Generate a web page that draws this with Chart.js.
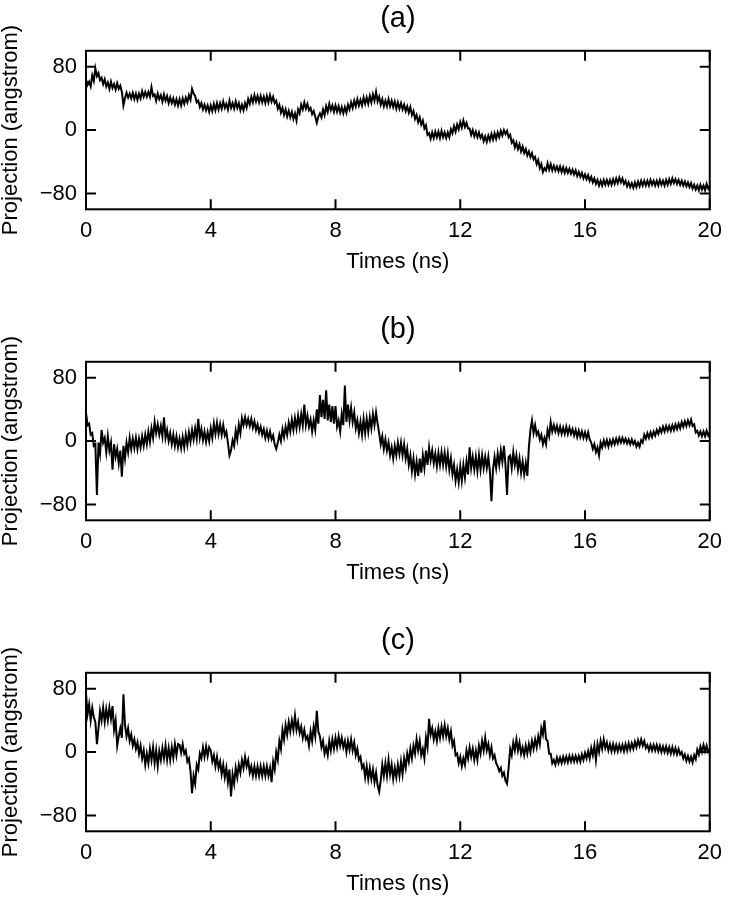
<!DOCTYPE html>
<html>
<head>
<meta charset="utf-8">
<script src="https://cdn.jsdelivr.net/npm/chart.js@4.4.1/dist/chart.umd.min.js"></script>
<style>
html,body{margin:0;padding:0;background:#fff;}
#wrap{position:relative;width:730px;height:899px;overflow:hidden;background:#fff;}
canvas{position:absolute;left:0;}
</style>
</head>
<body>
<div id="wrap">
<canvas id="ca" width="730" height="311" style="top:0px"></canvas>
<canvas id="cb" width="730" height="311" style="top:311px"></canvas>
<canvas id="cc" width="730" height="277" style="top:622px"></canvas>
</div>
<script>
// ---- data ----
const PANEL_TITLES = ['(a)', '(b)', '(c)'];
const X_TITLE = 'Times (ns)';
const Y_TITLE = 'Projection (angstrom)';
const X_TICKS = [0, 4, 8, 12, 16, 20];
const Y_TICKS = [-80, 0, 80];
const Y_TICK_LABELS = ['\u221280', '0', '80'];

// sampling times (ns)
const TIMES = [
  0,0.05,0.1,0.15,0.2,0.25,0.3,0.35,0.4,0.45,0.5,0.55,0.6,0.65,0.7,0.75,0.8,0.85,0.9,0.95,
  1,1.05,1.1,1.15,1.2,1.25,1.3,1.35,1.4,1.45,1.5,1.55,1.6,1.65,1.7,1.75,1.8,1.85,1.9,1.95,
  2,2.05,2.1,2.15,2.2,2.25,2.3,2.35,2.4,2.45,2.5,2.55,2.6,2.65,2.7,2.75,2.8,2.85,2.9,2.95,
  3,3.05,3.1,3.15,3.2,3.25,3.3,3.35,3.4,3.45,3.5,3.55,3.6,3.65,3.7,3.75,3.8,3.85,3.9,3.95,
  4,4.05,4.1,4.15,4.2,4.25,4.3,4.35,4.4,4.45,4.5,4.55,4.6,4.65,4.7,4.75,4.8,4.85,4.9,4.95,
  5,5.05,5.1,5.15,5.2,5.25,5.3,5.35,5.4,5.45,5.5,5.55,5.6,5.65,5.7,5.75,5.8,5.85,5.9,5.95,
  6,6.05,6.1,6.15,6.2,6.25,6.3,6.35,6.4,6.45,6.5,6.55,6.6,6.65,6.7,6.75,6.8,6.85,6.9,6.95,
  7,7.05,7.1,7.15,7.2,7.25,7.3,7.35,7.4,7.45,7.5,7.55,7.6,7.65,7.7,7.75,7.8,7.85,7.9,7.95,
  8,8.05,8.1,8.15,8.2,8.25,8.3,8.35,8.4,8.45,8.5,8.55,8.6,8.65,8.7,8.75,8.8,8.85,8.9,8.95,
  9,9.05,9.1,9.15,9.2,9.25,9.3,9.35,9.4,9.45,9.5,9.55,9.6,9.65,9.7,9.75,9.8,9.85,9.9,9.95,
  10,10.05,10.1,10.15,10.2,10.25,10.3,10.35,10.4,10.45,10.5,10.55,10.6,10.65,10.7,10.75,10.8,10.85,10.9,10.95,
  11,11.05,11.1,11.15,11.2,11.25,11.3,11.35,11.4,11.45,11.5,11.55,11.6,11.65,11.7,11.75,11.8,11.85,11.9,11.95,
  12,12.05,12.1,12.15,12.2,12.25,12.3,12.35,12.4,12.45,12.5,12.55,12.6,12.65,12.7,12.75,12.8,12.85,12.9,12.95,
  13,13.05,13.1,13.15,13.2,13.25,13.3,13.35,13.4,13.45,13.5,13.55,13.6,13.65,13.7,13.75,13.8,13.85,13.9,13.95,
  14,14.05,14.1,14.15,14.2,14.25,14.3,14.35,14.4,14.45,14.5,14.55,14.6,14.65,14.7,14.75,14.8,14.85,14.9,14.95,
  15,15.05,15.1,15.15,15.2,15.25,15.3,15.35,15.4,15.45,15.5,15.55,15.6,15.65,15.7,15.75,15.8,15.85,15.9,15.95,
  16,16.05,16.1,16.15,16.2,16.25,16.3,16.35,16.4,16.45,16.5,16.55,16.6,16.65,16.7,16.75,16.8,16.85,16.9,16.95,
  17,17.05,17.1,17.15,17.2,17.25,17.3,17.35,17.4,17.45,17.5,17.55,17.6,17.65,17.7,17.75,17.8,17.85,17.9,17.95,
  18,18.05,18.1,18.15,18.2,18.25,18.3,18.35,18.4,18.45,18.5,18.55,18.6,18.65,18.7,18.75,18.8,18.85,18.9,18.95,
  19,19.05,19.1,19.15,19.2,19.25,19.3,19.35,19.4,19.45,19.5,19.55,19.6,19.65,19.7,19.75,19.8,19.85,19.9,19.95,
  20
];

// panel (a) projection (angstrom)
const PROJ_A = [
  64,57,61,55,69,62,78,68,72,63,66,58,64,55,60,52,61,53,58,51,
  59,52,56,48,31,40,47,41,46,40,47,39,46,38,46,40,49,42,48,42,
  48,42,54,43,45,37,46,39,44,36,45,37,43,34,41,34,40,32,39,31,
  39,31,40,33,41,35,44,38,52,46,43,35,37,29,34,26,32,25,31,23,
  31,24,33,25,34,26,34,27,36,28,33,26,37,28,34,27,36,28,34,25,
  32,25,34,28,39,33,42,35,44,36,43,35,43,35,42,34,43,35,44,36,
  42,34,37,27,32,22,28,19,26,17,24,16,23,14,21,12,26,21,32,26,
  35,27,33,25,28,20,24,17,9,17,21,16,26,19,30,23,33,25,31,23,
  31,23,30,22,29,21,29,22,32,26,35,28,37,30,39,31,38,31,41,33,
  41,33,43,35,45,37,48,36,42,32,39,30,37,30,39,30,37,29,36,27,
  35,27,34,26,32,24,30,22,29,19,24,14,19,10,16,7,12,2,6,-6,
  -4,-11,-3,-10,-2,-9,-2,-10,-1,-9,-3,-10,-3,-9,1,-4,5,-2,7,1,
  10,3,12,4,9,2,2,-6,0,-8,-2,-9,-3,-10,-6,-14,-8,-15,-7,-13,
  -5,-12,-4,-11,-3,-9,-1,-7,0,-5,-1,-9,-6,-16,-13,-22,-16,-24,-18,-27,
  -21,-29,-24,-32,-27,-34,-29,-37,-34,-43,-38,-48,-43,-53,-48,-51,-42,-50,-43,-51,
  -45,-51,-46,-52,-46,-53,-47,-54,-48,-54,-49,-55,-50,-56,-51,-58,-53,-59,-54,-61,
  -56,-62,-57,-64,-59,-66,-61,-68,-63,-70,-64,-70,-63,-69,-63,-69,-63,-69,-62,-68,
  -61,-67,-60,-66,-61,-68,-64,-71,-66,-72,-67,-73,-66,-72,-65,-71,-64,-70,-64,-70,
  -64,-70,-63,-69,-64,-70,-64,-70,-63,-69,-64,-70,-63,-69,-62,-68,-61,-67,-62,-68,
  -63,-69,-64,-70,-65,-71,-66,-72,-67,-74,-69,-75,-70,-76,-69,-75,-70,-76,-68,-74,
  -70
];

// panel (b) projection (angstrom)
const PROJ_B = [
  36,20,22,8,10,-6,-4,-68,-2,-16,14,-2,4,-14,6,-12,-2,-36,-4,-20,
  -10,-28,-12,-45,-6,-22,-2,-14,4,-10,3,-9,4,-10,3,-8,6,-6,8,-4,
  12,-1,16,4,24,10,21,8,19,6,30,4,14,0,10,-4,8,-6,6,-8,
  3,-9,5,-8,8,-5,11,-1,14,2,16,3,28,4,15,1,12,-1,11,0,
  16,4,22,9,23,9,21,8,20,7,12,-2,-18,-12,1,-6,13,2,21,10,
  29,20,30,20,28,19,28,17,25,14,21,11,18,8,15,4,13,3,12,2,
  7,-4,-10,-2,8,0,15,5,18,8,23,12,27,14,29,16,32,18,34,20,
  46,20,32,18,27,12,26,14,40,22,58,30,52,28,64,26,46,24,44,22,
  44,18,26,12,34,20,70,24,46,26,42,24,36,16,26,10,24,8,28,10,
  28,12,30,16,34,20,36,22,10,-4,6,-10,2,-12,-2,-18,-8,-22,-6,-18,
  -2,-16,-2,-18,-4,-22,-10,-30,-18,-38,-22,-42,-26,-44,-22,-40,-18,-34,-12,-30,
  -8,-24,-12,-28,-16,-32,-15,-30,-14,-30,-15,-32,-16,-36,-22,-42,-30,-50,-36,-52,
  -32,-50,-30,-46,-26,-42,-8,-34,-20,-36,-20,-38,-18,-36,-18,-34,-20,-34,-20,-38,
  -76,-36,-20,-34,-16,-30,-12,-26,-6,-30,-68,-20,-18,-34,-14,-30,-18,-36,-22,-40,
  -26,-42,-28,-44,-8,14,26,10,20,8,12,2,8,-4,4,-4,14,6,24,12,
  20,12,19,10,18,9,17,9,18,9,17,9,15,7,14,5,13,5,12,4,
  11,3,11,2,-2,-10,-4,-14,-8,-18,-2,-8,1,-6,1,-7,1,-5,2,-4,
  3,-3,4,-2,4,-2,3,-3,2,-4,2,-4,0,-7,-2,-7,1,-2,8,3,
  10,4,11,5,12,7,14,9,16,11,18,12,19,13,19,13,20,14,21,15,
  22,16,24,18,25,19,26,20,27,19,21,11,13,7,12,6,12,6,13,7,
  11
];

// panel (c) projection (angstrom)
const PROJ_C = [
  74,48,60,40,56,44,38,10,30,52,40,56,38,54,40,56,42,58,28,40,
  8,20,30,18,73,34,20,30,14,22,8,16,4,12,-2,8,-8,2,-16,-2,
  -14,4,-10,6,-14,2,-18,1,-10,5,-8,8,-10,5,-10,6,-7,10,-4,10,
  9,-1,10,-2,2,-12,-8,-24,-52,-30,-40,-16,-22,-2,-8,6,-6,7,-5,6,
  2,-12,-4,-18,-6,-20,-12,-28,-16,-32,-20,-38,-22,-56,-28,-40,-20,-32,-16,-26,
  -10,-20,-6,-18,-10,-26,-18,-30,-18,-30,-18,-30,-18,-30,-18,-30,-18,-30,-20,-38,
  -12,-22,0,-10,14,4,28,16,34,22,38,26,40,28,46,28,38,24,32,18,
  28,16,20,8,26,14,32,20,52,26,20,6,14,-2,6,-4,14,2,16,4,
  18,6,20,8,18,6,14,0,14,3,16,2,12,-4,4,-10,-6,-20,-16,-32,
  -18,-34,-20,-34,-22,-38,-26,-42,-50,-36,-16,-30,-14,-30,-10,-28,-16,-34,-20,-32,
  -16,-30,-12,-28,-8,-20,-2,-12,4,-8,8,-2,16,2,14,-4,4,-8,18,6,
  42,22,30,16,26,14,30,18,32,20,34,20,30,16,26,8,14,-4,-2,-14,
  -6,-18,-8,-16,2,-8,6,-6,4,-10,2,-10,8,-2,14,2,18,2,10,-4,
  6,-8,-4,-14,-18,-24,-20,-30,-26,-36,-40,-20,4,-4,12,2,16,2,12,-2,
  6,-4,8,-2,10,0,14,4,16,6,20,10,30,22,40,16,14,-2,-2,-14,
  -10,-16,-7,-14,-7,-14,-6,-13,-6,-13,-5,-12,-5,-12,-5,-12,-5,-12,-3,-10,
  -1,-8,1,-8,5,-4,8,-10,10,0,14,4,16,5,12,2,10,1,10,1,
  9,1,9,2,9,1,10,2,11,3,11,4,13,6,15,8,16,8,14,5,
  9,2,9,2,9,2,9,1,8,0,7,0,7,-1,6,-2,6,-2,5,-3,
  4,-3,0,-8,-3,-11,-5,-12,-6,-13,-4,-9,3,-3,7,0,9,1,8,0,
  3
];

// ---- styling / layout ----
const FONT = '"Liberation Sans", Arial, Helvetica, sans-serif';
const PLOT_BOTTOM = 209.3;   // chart-area bottom inside each canvas
const TICK_LEN = 10;

const boxPlugin = {
  id: 'boxTicks',
  afterDatasetsDraw(chart) {
    const ctx = chart.ctx, a = chart.chartArea, xs = chart.scales.x, ys = chart.scales.y;
    ctx.save();
    ctx.strokeStyle = '#000';
    ctx.lineWidth = 2;
    ctx.strokeRect(a.left, a.top, a.right - a.left, a.bottom - a.top);
    ctx.beginPath();
    X_TICKS.forEach(v => {
      const px = xs.getPixelForValue(v);
      ctx.moveTo(px, a.bottom); ctx.lineTo(px, a.bottom - TICK_LEN);
      ctx.moveTo(px, a.top); ctx.lineTo(px, a.top + TICK_LEN);
    });
    Y_TICKS.forEach(v => {
      const py = ys.getPixelForValue(v);
      ctx.moveTo(a.left, py); ctx.lineTo(a.left + TICK_LEN, py);
      ctx.moveTo(a.right, py); ctx.lineTo(a.right - TICK_LEN, py);
    });
    ctx.stroke();
    ctx.restore();
  }
};

function makePanel(id, title, values) {
  const canvas = document.getElementById(id);
  const H = canvas.height;
  const xH = H - PLOT_BOTTOM;
  const points = TIMES.map((t, i) => ({ x: t, y: values[i] }));
  return new Chart(canvas, {
    type: 'line',
    data: { datasets: [{
      data: points, borderColor: '#000', borderWidth: 2,
      pointRadius: 0, tension: 0, fill: false
    }] },
    options: {
      responsive: false, animation: false, events: [],
      layout: { padding: { left: 0, right: 14.5, top: 0, bottom: 0 } },
      plugins: {
        legend: { display: false },
        tooltip: { enabled: false },
        title: {
          display: true, text: title, fullSize: false, color: '#000',
          font: { family: FONT, size: 29, weight: 'normal', lineHeight: 1.2 },
          padding: { top: 2, bottom: 14 }
        }
      },
      scales: {
        x: {
          type: 'linear', min: 0, max: 20,
          afterBuildTicks: s => { s.ticks = X_TICKS.map(v => ({ value: v })); },
          afterFit: s => { s.height = xH; },
          grid: { display: false, drawTicks: false },
          border: { display: false },
          ticks: { color: '#000', font: { family: FONT, size: 22 }, padding: 8, maxRotation: 0, autoSkip: false },
          title: {
            display: true, text: X_TITLE, color: '#000',
            font: { family: FONT, size: 22, lineHeight: 1.2 },
            padding: { top: 0, bottom: xH - 53 - 13.2 }
          }
        },
        y: {
          type: 'linear', min: -100, max: 100,
          afterBuildTicks: s => { s.ticks = Y_TICKS.map(v => ({ value: v })); },
          afterFit: s => { s.width = 86; },
          grid: { display: false, drawTicks: false },
          border: { display: false },
          ticks: {
            color: '#000', font: { family: FONT, size: 22 }, padding: 9, autoSkip: false,
            callback: v => Y_TICK_LABELS[Y_TICKS.indexOf(v)]
          },
          title: {
            display: true, text: Y_TITLE, color: '#000',
            font: { family: FONT, size: 22, lineHeight: 1 },
            padding: { top: 0, bottom: 0 }
          }
        }
      }
    },
    plugins: [boxPlugin]
  });
}

makePanel('ca', PANEL_TITLES[0], PROJ_A);
makePanel('cb', PANEL_TITLES[1], PROJ_B);
makePanel('cc', PANEL_TITLES[2], PROJ_C);
</script>
</body>
</html>
